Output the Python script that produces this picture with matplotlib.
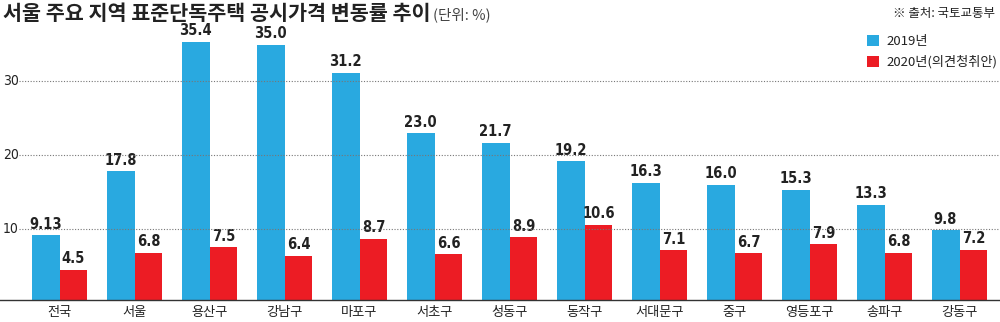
import matplotlib
matplotlib.use("Agg")
import matplotlib.pyplot as plt
from matplotlib import font_manager
from matplotlib.patches import Patch
import numpy as np

categories = ["전국", "서울", "용산구", "강남구", "마포구", "서초구", "성동구",
              "동작구", "서대문구", "중구", "영등포구", "송파구", "강동구"]
values_2019 = [9.13, 17.8, 35.4, 35.0, 31.2, 23.0, 21.7, 19.2, 16.3, 16.0, 15.3, 13.3, 9.8]
values_2020 = [4.5, 6.8, 7.5, 6.4, 8.7, 6.6, 8.9, 10.6, 7.1, 6.7, 7.9, 6.8, 7.2]
labels_2019 = ["9.13", "17.8", "35.4", "35.0", "31.2", "23.0", "21.7", "19.2", "16.3", "16.0", "15.3", "13.3", "9.8"]
labels_2020 = ["4.5", "6.8", "7.5", "6.4", "8.7", "6.6", "8.9", "10.6", "7.1", "6.7", "7.9", "6.8", "7.2"]
series_names = ["2019년", "2020년(의견청취안)"]
yticks = [10, 20, 30]

KR = "Noto Sans CJK KR"
fl = font_manager.fontManager.ttflist
names = {f.name for f in fl}
if "Liberation Sans Narrow" in names:
    NUM = dict(family=["Liberation Sans Narrow", KR])
elif any(f.name == "DejaVu Sans" and "Condensed" in f.fname for f in fl):
    NUM = dict(family=["DejaVu Sans", KR], fontstretch="condensed")
else:
    NUM = dict(family=["DejaVu Sans", KR])
plt.rcParams["font.family"] = [KR, "DejaVu Sans"]

BLUE = "#29A9E0"
RED = "#EC1C24"
TXT = "#222222"

W, H = 1000, 322
fig = plt.figure(figsize=(W / 100, H / 100), dpi=100)
ax = fig.add_axes([0, 1 - 300 / H, 1, (300 - 30) / H])

x = np.arange(len(categories))
bw = 0.373
b1 = ax.bar(x - bw / 2, values_2019, width=bw, color=BLUE, linewidth=0, zorder=2)
b2 = ax.bar(x + bw / 2, values_2020, width=bw, color=RED, linewidth=0, zorder=2)

for bars, labs in ((b1, labels_2019), (b2, labels_2020)):
    for rect, lab in zip(bars, labs):
        ax.annotate(lab, (rect.get_x() + rect.get_width() / 2, rect.get_height()),
                    xytext=(0, 2.5), textcoords="offset points", ha="center", va="bottom",
                    fontsize=10.5, fontweight="bold", color=TXT, **NUM)

ax.set_xlim(-59.5 / 75, (1000 - 59.5) / 75)
ax.set_ylim(0.37, 36.98)

for t in yticks:
    ax.axhline(t, xmin=0.019, xmax=1, color="#777777", linestyle=(0, (1, 1.5)),
               linewidth=0.8, zorder=3)
    ax.text(0.003, t, str(t), transform=ax.get_yaxis_transform(), ha="left",
            va="center", fontsize=10, color=TXT, **NUM)

ax.set_yticks([])
ax.set_xticks(x)
ax.set_xticklabels(categories, fontsize=9.5, color=TXT)
ax.tick_params(axis="x", length=0, pad=4)
for s in ["top", "right", "left"]:
    ax.spines[s].set_visible(False)
ax.spines["bottom"].set_color("#333333")
ax.spines["bottom"].set_linewidth(1.0)

handles = [Patch(facecolor=BLUE, edgecolor="none"), Patch(facecolor=RED, edgecolor="none")]
leg = ax.legend(handles, series_names, loc="upper left",
                bbox_to_anchor=(867 / W, 1 - 35 / H), bbox_transform=fig.transFigure,
                frameon=False, fontsize=9.5, handlelength=0.9, handleheight=0.9,
                handletextpad=0.6, labelspacing=0.55, borderaxespad=0, borderpad=0)
for t in leg.get_texts():
    t.set_color(TXT)

fig.text(3 / W, 1 - 14 / H, "서울 주요 지역 표준단독주택 공시가격 변동률 추이",
         fontsize=14.9, fontweight="heavy", color=TXT, ha="left", va="center")
fig.text(433 / W, 1 - 15 / H, "(단위: %)", fontsize=10.5, color="#444444",
         ha="left", va="center")
fig.text(995 / W, 1 - 13 / H, "※ 출처: 국토교통부", fontsize=9, color=TXT,
         ha="right", va="center")

fig.savefig("out.png", dpi=100)
